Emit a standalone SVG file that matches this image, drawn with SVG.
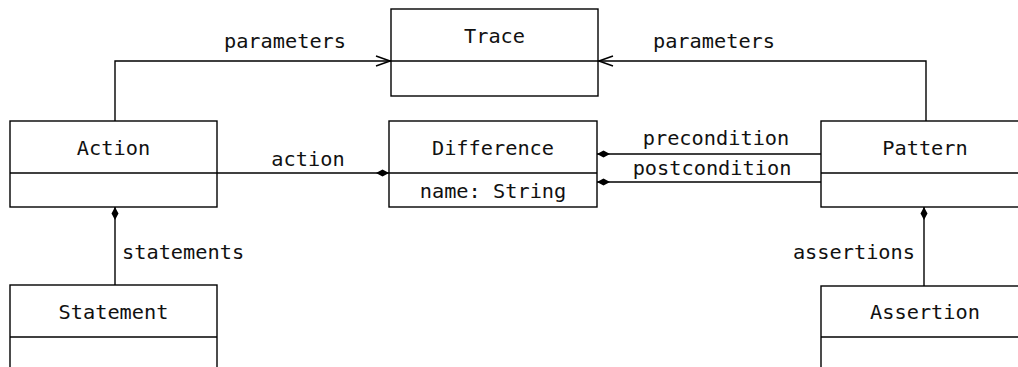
<svg xmlns="http://www.w3.org/2000/svg" width="1018" height="367" viewBox="0 0 1018 367">
  <style>
    .box { fill: #fff; stroke: #000; stroke-width: 1.4; }
    .div { stroke: #000; stroke-width: 1.4; }
    .edge { fill: none; stroke: #000; stroke-width: 1.4; }
    text { font-family: "DejaVu Sans Mono", "Liberation Mono", monospace; font-size: 20.3px; fill: #111; }
    .c { text-anchor: middle; }
  </style>
  <defs>
    <marker id="open" viewBox="0 0 16 12" refX="16" refY="6" markerWidth="16" markerHeight="12" markerUnits="userSpaceOnUse" orient="auto">
      <path d="M1,1 L15,6 L1,11" fill="none" stroke="#000" stroke-width="1.4"/>
    </marker>
    <marker id="diamond" viewBox="0 0 13 8" refX="0" refY="4" markerWidth="13" markerHeight="8" markerUnits="userSpaceOnUse" orient="auto">
      <path d="M0,4 L6.5,0.5 L13,4 L6.5,7.5 Z" fill="#000"/>
    </marker>
  </defs>

  <rect width="1018" height="367" fill="#fff"/>

  <g id="connectors">
    <!-- Action to Trace -->
    <polyline class="edge" points="115,121 115,61 391,61" marker-end="url(#open)"/>
    <text class="c" x="285" y="48">parameters</text>
    <!-- Pattern to Trace -->
    <polyline class="edge" points="926,121 926,61 598,61" marker-end="url(#open)"/>
    <text class="c" x="714" y="48">parameters</text>
    <!-- Difference owns Action -->
    <line class="edge" x1="389" y1="173" x2="217" y2="173" marker-start="url(#diamond)"/>
    <text class="c" x="308" y="166">action</text>
    <!-- Difference owns Pattern (twice) -->
    <line class="edge" x1="597" y1="154" x2="821" y2="154" marker-start="url(#diamond)"/>
    <text class="c" x="716" y="145">precondition</text>
    <line class="edge" x1="597" y1="182" x2="821" y2="182" marker-start="url(#diamond)"/>
    <text class="c" x="712" y="175">postcondition</text>
    <!-- Action owns Statement -->
    <line class="edge" x1="115" y1="207" x2="115" y2="285" marker-start="url(#diamond)"/>
    <text x="122" y="259">statements</text>
    <!-- Pattern owns Assertion -->
    <line class="edge" x1="924" y1="207" x2="924" y2="286" marker-start="url(#diamond)"/>
    <text x="915" y="259" text-anchor="end">assertions</text>
  </g>

  <g id="trace">
    <rect class="box" x="391" y="9" width="207" height="87"/>
    <line class="div" x1="391" y1="61" x2="598" y2="61"/>
    <text class="c" x="494.5" y="43">Trace</text>
  </g>

  <g id="action">
    <rect class="box" x="10" y="121" width="207" height="86"/>
    <line class="div" x1="10" y1="173" x2="217" y2="173"/>
    <text class="c" x="113.5" y="155">Action</text>
  </g>

  <g id="difference">
    <rect class="box" x="389" y="121" width="208" height="86"/>
    <line class="div" x1="389" y1="173" x2="597" y2="173"/>
    <text class="c" x="493" y="155">Difference</text>
    <text class="c" x="493" y="198">name: String</text>
  </g>

  <g id="pattern">
    <rect class="box" x="821" y="121" width="207" height="86"/>
    <line class="div" x1="821" y1="173" x2="1028" y2="173"/>
    <text class="c" x="925" y="155">Pattern</text>
  </g>

  <g id="statement">
    <rect class="box" x="10" y="285" width="207" height="100"/>
    <line class="div" x1="10" y1="337" x2="217" y2="337"/>
    <text class="c" x="113.5" y="319">Statement</text>
  </g>

  <g id="assertion">
    <rect class="box" x="821" y="286" width="207" height="100"/>
    <line class="div" x1="821" y1="337" x2="1028" y2="337"/>
    <text class="c" x="925" y="319">Assertion</text>
  </g>
</svg>
